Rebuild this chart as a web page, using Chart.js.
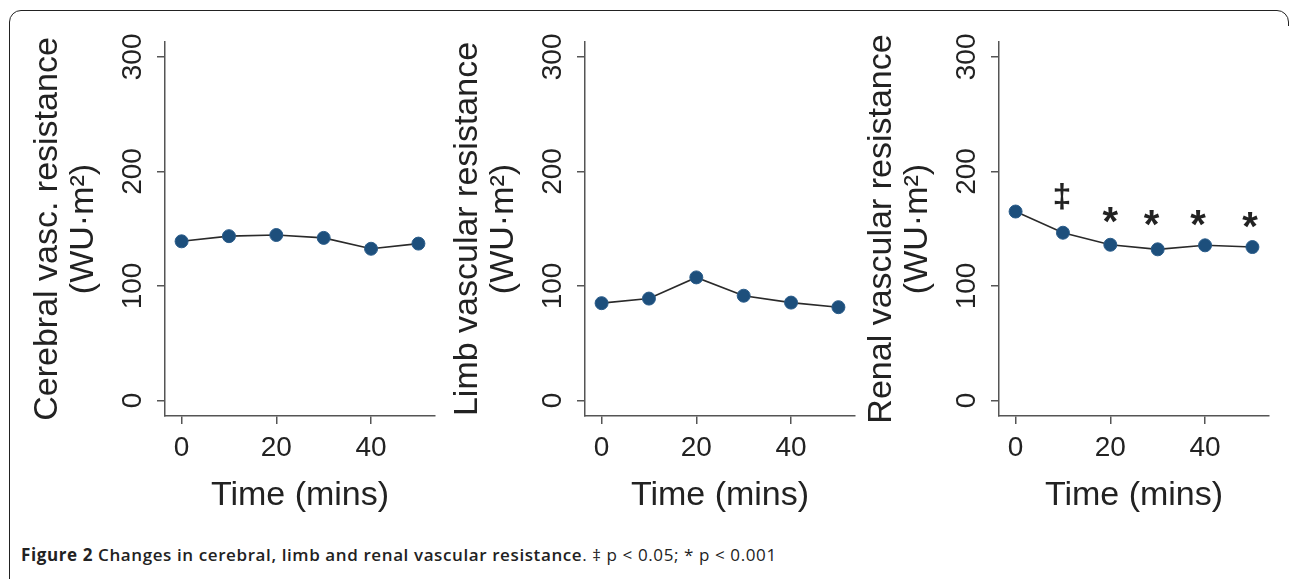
<!DOCTYPE html>
<html>
<head>
    <title>Figure 2</title>
    <style>
        body { margin: 0; background: #fff; width: 1292px; height: 579px; overflow: hidden; position: relative; }
        .frame { position: absolute; left: 9px; top: 10px; width: 1280px; height: 620px; border: 1.8px solid #222; border-radius: 12px; box-sizing: border-box; }
        .cover { position: absolute; left: 1278px; top: 26px; width: 20px; height: 600px; background: #fff; }
        .panel { position: absolute; top: 0; width: 425px; height: 525px; }
        .caption { position: absolute; left: 21px; top: 545px; line-height: 20px; font-family: "Open Sans", sans-serif; font-size: 17px; letter-spacing: 0.6px; color: #222; white-space: nowrap; }
        .caption b { font-weight: 700; }
        .caption .t { font-weight: 600; }
    </style>
    <script src="https://cdn.jsdelivr.net/npm/chart.js"></script>
</head>
<body>
    <div class="frame"></div>
    <div class="cover"></div>
    <div class="panel" style="left:20px"><canvas id="cerebralChart" width="425" height="525"></canvas></div>
    <div class="panel" style="left:440px"><canvas id="limbChart" width="425" height="525"></canvas></div>
    <div class="panel" style="left:854px"><canvas id="renalChart" width="425" height="525"></canvas></div>
    <div class="caption"><b>Figure 2</b> <span class="t">Changes in cerebral, limb and renal vascular resistance</span>. ‡ p &lt; 0.05; * p &lt; 0.001</div>
    <script>
        const times = [0, 10, 20, 30, 40, 50];
        const xTicks = [0, 20, 40];
        const yTicks = [0, 100, 200, 300];

        const cerebral = [139, 143.5, 144.5, 142, 132.5, 137];
        const limb = [85, 89, 107.5, 91.5, 85.5, 81.5];
        const renal = [165, 146.5, 136, 132, 135.5, 134];

        // significance marks over the renal panel (data coords)
        const renalMarkX = [9.8, 20, 28.7, 38.5, 49.5];
        const renalMarkY = [177, 162, 159, 159, 158];
        const renalMarks = ['‡', '*', '*', '*', '*'];

        const font = 'Liberation Sans, Arial, sans-serif';
        const ink = '#222';
        const axisGrey = '#555';

        const marksPlugin = {
            id: 'marks',
            afterDatasetsDraw(chart, args, opts) {
                if (!opts.labels) return;
                const ctx = chart.ctx;
                ctx.save();
                ctx.fillStyle = ink;
                ctx.textAlign = 'center';
                ctx.textBaseline = 'middle';
                opts.labels.forEach((t, i) => {
                    const px = chart.scales.x.getPixelForValue(opts.xs[i]);
                    const py = chart.scales.y.getPixelForValue(opts.ys[i]);
                    if (t === '*') {
                        ctx.font = 'bold 40px ' + font;
                        ctx.fillText(t, px, py + 9);
                    } else {
                        ctx.font = 'bold 34px ' + font;
                        ctx.fillText(t, px, py);
                    }
                });
                ctx.restore();
            }
        };

        function makeChart(id, values, title, marks) {
            const ctx = document.getElementById(id).getContext('2d');
            return new Chart(ctx, {
                type: 'line',
                data: {
                    datasets: [{
                        data: times.map((t, i) => ({ x: t, y: values[i] })),
                        borderColor: '#2a2a2a',
                        borderWidth: 1.6,
                        pointRadius: 6.5,
                        pointBackgroundColor: '#1d4f7c',
                        pointBorderColor: '#2a5c8a',
                        pointBorderWidth: 1,
                        tension: 0
                    }]
                },
                options: {
                    responsive: false,
                    animation: false,
                    layout: { padding: { top: 42, right: 10, bottom: 0, left: 0 } },
                    plugins: {
                        legend: { display: false },
                        tooltip: { enabled: false },
                        marks: marks || {}
                    },
                    scales: {
                        x: {
                            type: 'linear',
                            min: -3.5,
                            max: 53.5,
                            afterBuildTicks: s => { s.ticks = xTicks.map(v => ({ value: v })); },
                            afterFit: s => { s.height = 109; },
                            grid: { drawOnChartArea: false, drawTicks: true, tickLength: 8, color: axisGrey, lineWidth: 1.5 },
                            border: { display: true, color: axisGrey, width: 1.5 },
                            ticks: { color: ink, font: { family: font, size: 28 }, padding: 7, maxRotation: 0 },
                            title: { display: true, text: 'Time (mins)', color: ink, font: { family: font, size: 34, lineHeight: 1 }, padding: { bottom: 12 } }
                        },
                        y: {
                            min: -13.5,
                            max: 313,
                            afterBuildTicks: s => { s.ticks = yTicks.map(v => ({ value: v })); },
                            afterFit: s => { s.width = 145; },
                            grid: { drawOnChartArea: false, drawTicks: true, tickLength: 8, color: axisGrey, lineWidth: 1.5 },
                            border: { display: true, color: axisGrey, width: 1.5 },
                            ticks: { color: ink, font: { family: font, size: 28 }, padding: 0, minRotation: 90, maxRotation: 90, crossAlign: 'center' },
                            title: { display: true, text: title, color: ink, font: { family: font, size: 34, lineHeight: 1.08 }, padding: { top: 9 } }
                        }
                    }
                },
                plugins: [marksPlugin]
            });
        }

        makeChart('cerebralChart', cerebral, ['Cerebral vasc. resistance', '(WU·m²)']);
        makeChart('limbChart', limb, ['Limb vascular resistance', '(WU·m²)']);
        makeChart('renalChart', renal, ['Renal vascular resistance', '(WU·m²)'],
            { labels: renalMarks, xs: renalMarkX, ys: renalMarkY });
    </script>
</body>
</html>
